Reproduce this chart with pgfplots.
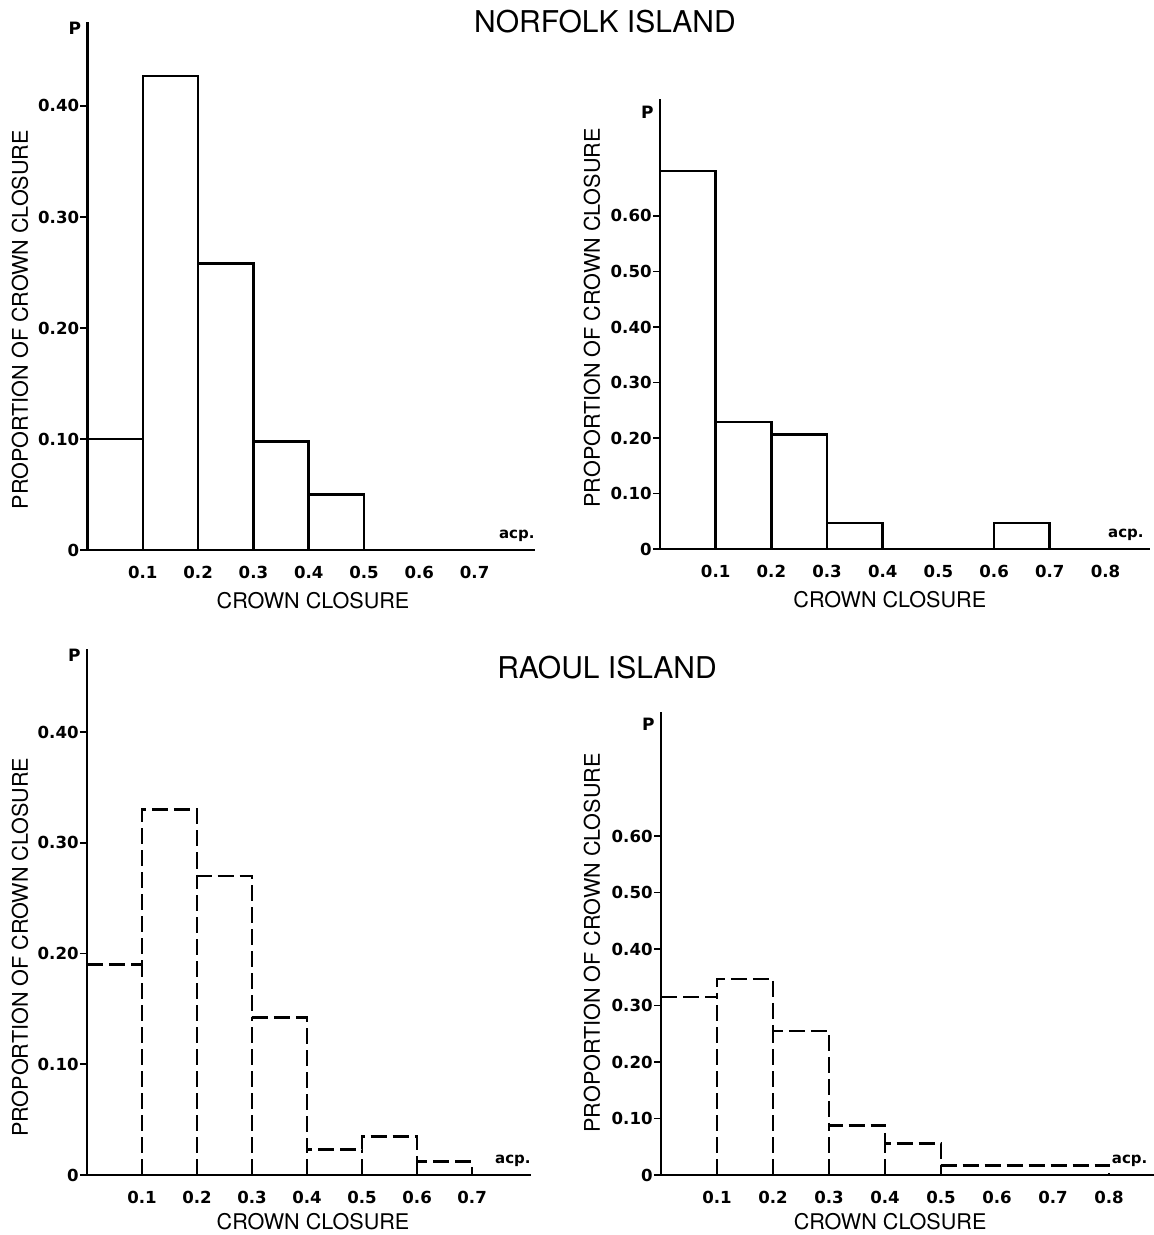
\documentclass[border=0pt]{standalone}
\usepackage{fontspec}
\setmainfont{TeX Gyre Heros}
\newfontfamily\tickfam{DejaVu Sans}
\usepackage{pgfplots}
\pgfplotsset{compat=1.18}
\newcommand\tickfont{\tickfam\bfseries\fontsize{8.3}{9}\selectfont}
\newcommand\labfont{\fontsize{10.8}{12}\selectfont}
\newcommand\pfont{\tickfam\bfseries\fontsize{8.5}{9}\selectfont}
\newcommand\acpfont{\tickfam\bfseries\fontsize{7.5}{8}\selectfont}
\pgfplotsset{
  hist/.style={
    scale only axis,
    axis lines*=left,
    axis line style={-, line width=1.3pt},
    xmin=0, ymin=0,
    clip=false,
    tick align=outside,
    major tick length=3.5pt,
    ytick style={line width=0.9pt, black},
    xtick style={draw=none},
    tick label style={font=\tickfont},
    yticklabel style={inner sep=0.5pt},
    xticklabel style={inner sep=1pt, yshift=-3.5pt},
    /pgf/number format/assume math mode=true,
    label style={font=\labfont},
  },
  solidbar/.style={black, line width=1.3pt, mark=none},
  dashbar/.style={black, line width=1.3pt, mark=none, dash pattern=on 8pt off 3pt},
}
\begin{document}
\begin{tikzpicture}
\useasboundingbox (0,0) rectangle (577pt,617.5pt);
\node[font=\fontsize{15}{17}\selectfont] at (302.5pt,606.5pt) {NORFOLK ISLAND};
\node[font=\fontsize{15}{17}\selectfont] at (303.5pt,283.5pt) {RAOUL ISLAND};

% Panel 1: Norfolk, left
\begin{axis}[hist,
  at={(43.75pt,342.5pt)}, anchor=south west,
  width=223.7pt, height=264.2pt, xmax=0.809, ymax=0.476,
  ytick={0,0.1,0.2,0.3,0.4}, yticklabels={0,0.10,0.20,0.30,0.40},
  xtick={0.1,0.2,0.3,0.4,0.5,0.6,0.7}, xticklabels={0.1,0.2,0.3,0.4,0.5,0.6,0.7},
  xlabel={CROWN CLOSURE}, ylabel={PROPORTION OF CROWN CLOSURE},
  xlabel style={at={(axis description cs:0.504,-0.095)}, anchor=center},
  ylabel style={at={(axis description cs:-0.151,0.436)}, anchor=center},
]
\addplot[solidbar, const plot mark left] coordinates {(0,0.100) (0.1,0.427) (0.2,0.258) (0.3,0.098) (0.4,0.050) (0.5,0.050) (0.5,0)};
\addplot[solidbar, ycomb] coordinates {(0.1,0.100) (0.2,0.258) (0.3,0.098) (0.4,0.050)};
\node[anchor=north east, inner sep=0pt, font=\pfont] at (rel axis cs:0,1) [xshift=-3pt] {P};
\node[anchor=south east, inner sep=0pt, font=\acpfont] at (rel axis cs:1,0) [yshift=4pt] {acp.};
\end{axis}

% Panel 2: Norfolk, right
\begin{axis}[hist,
  at={(330pt,343pt)}, anchor=south west,
  width=245pt, height=224.8pt, xmax=0.88, ymax=0.81,
  ytick={0,0.1,0.2,0.3,0.4,0.5,0.6}, yticklabels={0,0.10,0.20,0.30,0.40,0.50,0.60},
  xtick={0.1,0.2,0.3,0.4,0.5,0.6,0.7,0.8}, xticklabels={0.1,0.2,0.3,0.4,0.5,0.6,0.7,0.8},
  xlabel={CROWN CLOSURE}, ylabel={PROPORTION OF CROWN CLOSURE},
  xlabel style={at={(axis description cs:0.469,-0.113)}, anchor=center},
  ylabel style={at={(axis description cs:-0.139,0.514)}, anchor=center},
]
\addplot[solidbar, const plot mark left] coordinates {(0,0.681) (0.1,0.229) (0.2,0.206) (0.3,0.047) (0.4,0) (0.6,0.047) (0.7,0.047) (0.7,0)};
\addplot[solidbar, ycomb] coordinates {(0.1,0.229) (0.2,0.206) (0.3,0.047)};
\node[anchor=north east, inner sep=0pt, font=\pfont] at (rel axis cs:0,1) [xshift=-3pt, yshift=-3pt] {P};
\node[anchor=south east, inner sep=0pt, font=\acpfont] at (rel axis cs:1,0) [yshift=4pt, xshift=-3pt] {acp.};
\end{axis}

% Panel 3: Raoul, left
\begin{axis}[hist,
  at={(43.5pt,30pt)}, anchor=south west,
  width=222pt, height=263pt, xmax=0.807, ymax=0.475,
  ytick={0,0.1,0.2,0.3,0.4}, yticklabels={0,0.10,0.20,0.30,0.40},
  xtick={0.1,0.2,0.3,0.4,0.5,0.6,0.7}, xticklabels={0.1,0.2,0.3,0.4,0.5,0.6,0.7},
  xlabel={CROWN CLOSURE}, ylabel={PROPORTION OF CROWN CLOSURE},
  xlabel style={at={(axis description cs:0.509,-0.089)}, anchor=center},
  ylabel style={at={(axis description cs:-0.151,0.433)}, anchor=center},
]
\addplot[dashbar, const plot mark left] coordinates {(0,0.190) (0.1,0.330) (0.2,0.270) (0.3,0.142) (0.4,0.023) (0.5,0.035) (0.6,0.012) (0.7,0.012) (0.7,0)};
\addplot[dashbar, ycomb] coordinates {(0.1,0.190) (0.2,0.270) (0.3,0.142) (0.4,0.023) (0.5,0.023) (0.6,0.012)};
\node[anchor=north east, inner sep=0pt, font=\pfont] at (rel axis cs:0,1) [xshift=-3pt] {P};
\node[anchor=south east, inner sep=0pt, font=\acpfont] at (rel axis cs:1,0) [yshift=4pt] {acp.};
\end{axis}

% Panel 4: Raoul, right
\begin{axis}[hist,
  at={(330.5pt,30pt)}, anchor=south west,
  width=246.4pt, height=231.6pt, xmax=0.88, ymax=0.82,
  ytick={0,0.1,0.2,0.3,0.4,0.5,0.6}, yticklabels={0,0.10,0.20,0.30,0.40,0.50,0.60},
  xtick={0.1,0.2,0.3,0.4,0.5,0.6,0.7,0.8}, xticklabels={0.1,0.2,0.3,0.4,0.5,0.6,0.7,0.8},
  xlabel={CROWN CLOSURE}, ylabel={PROPORTION OF CROWN CLOSURE},
  xlabel style={at={(axis description cs:0.465,-0.1015)}, anchor=center},
  ylabel style={at={(axis description cs:-0.14,0.501)}, anchor=center},
]
\addplot[dashbar, const plot mark left] coordinates {(0,0.315) (0.1,0.347) (0.2,0.255) (0.3,0.088) (0.4,0.056) (0.5,0.017) (0.8,0.017) (0.8,0)};
\addplot[dashbar, ycomb] coordinates {(0.1,0.315) (0.2,0.255) (0.3,0.088) (0.4,0.056) (0.5,0.017)};
\node[anchor=north east, inner sep=0pt, font=\pfont] at (rel axis cs:0,1) [xshift=-3pt, yshift=-3pt] {P};
\node[anchor=south east, inner sep=0pt, font=\acpfont] at (rel axis cs:1,0) [yshift=4pt, xshift=-3pt] {acp.};
\end{axis}
\end{tikzpicture}
\end{document}
